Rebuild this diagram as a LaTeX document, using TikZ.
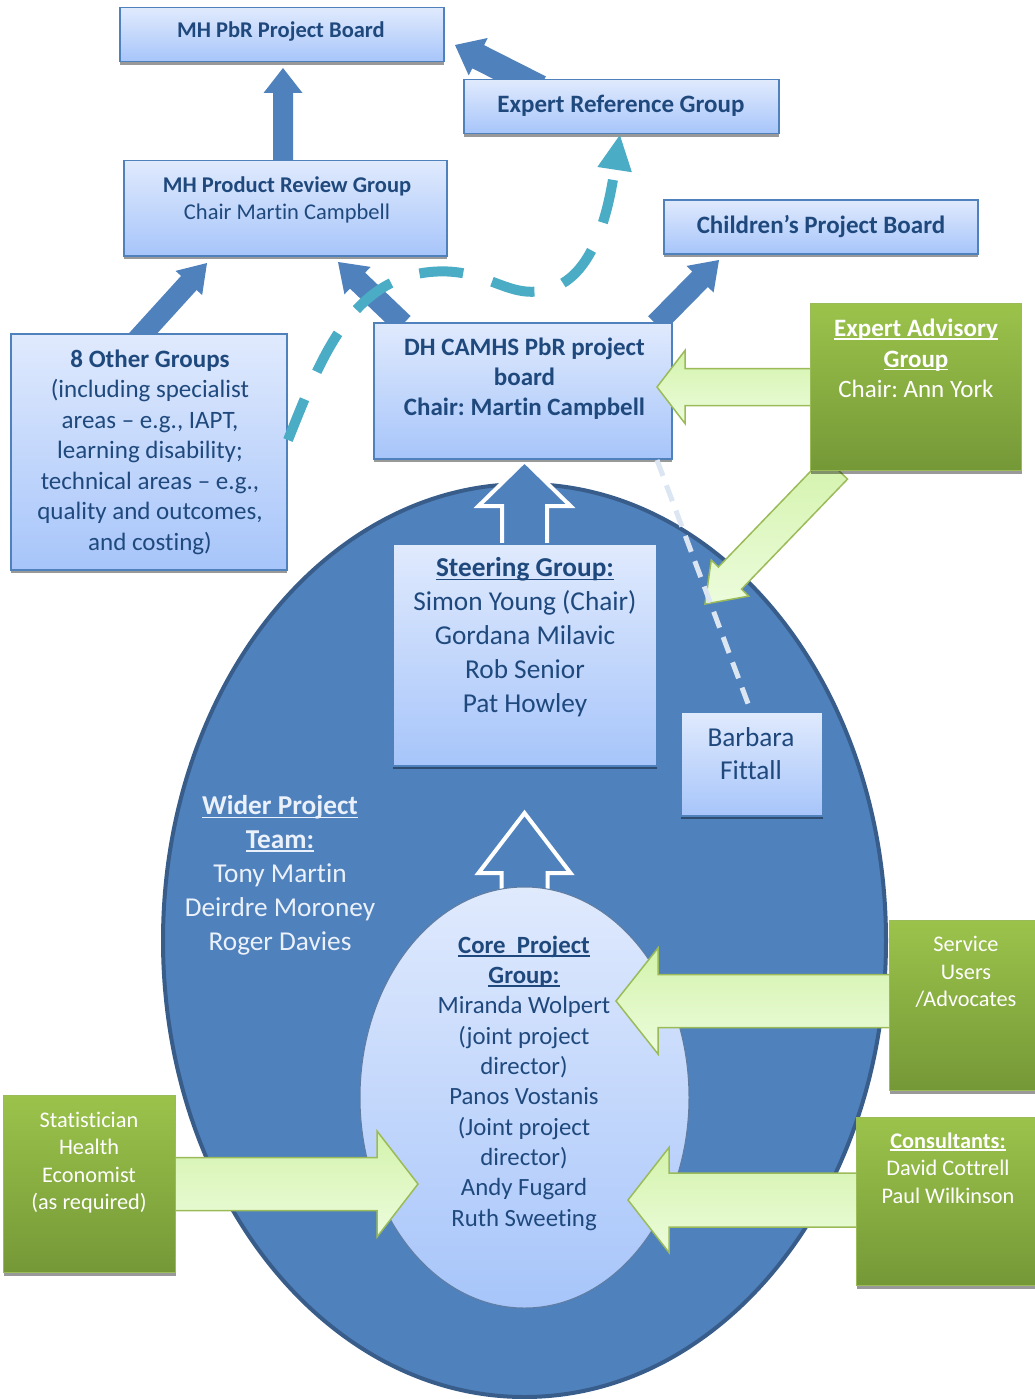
\documentclass[tikz,border=0pt]{standalone}
\usepackage{fontspec}
\setmainfont{Carlito}[Ligatures={TeX,NoCommon}]
\usetikzlibrary{calc,arrows.meta,shadows,shapes.geometric}
\frenchspacing

\definecolor{boxtext}{RGB}{31,73,125}
\definecolor{boxtop}{RGB}{224,234,253}
\definecolor{boxbot}{RGB}{167,197,250}
\definecolor{boxline}{RGB}{79,129,189}
\definecolor{dblue}{RGB}{79,129,189}
\definecolor{dblueline}{RGB}{56,93,138}
\definecolor{gtop}{RGB}{155,195,75}
\definecolor{gbot}{RGB}{117,152,55}
\definecolor{gline}{RGB}{155,187,89}
\definecolor{ltop}{RGB}{212,243,172}
\definecolor{lbot}{RGB}{236,252,220}
\definecolor{tealdash}{RGB}{75,172,198}
\definecolor{widetext}{RGB}{235,241,250}
\definecolor{linkdash}{RGB}{220,230,243}

% underline set just below the baseline, crossing descenders
\newcommand\wordul[1]{\setbox0\hbox{#1}\rlap{\rule[-0.13em]{\wd0}{0.065em}}\box0}

% block arrow: style, tail, tip, shaft half width, head half width, head length
\newcommand\blockarrow[6]{%
  \coordinate (ba-base) at ($(#3)!#6!(#2)$);
  \path[#1] ($(#2)!#4!90:(#3)$) -- ($(ba-base)!#4!90:(#3)$) -- ($(ba-base)!#5!90:(#3)$) -- (#3)
     -- ($(ba-base)!#5!-90:(#3)$) -- ($(ba-base)!#4!-90:(#3)$) -- ($(#2)!#4!-90:(#3)$) -- cycle;}

% text nodes sit on the baseline of their last line
\tikzset{
  bshadow/.style={drop shadow={shadow xshift=0pt,shadow yshift=-3pt,fill=black,opacity=0.4}},
  bluebox/.style={rectangle, draw=boxline, line width=1.5pt, top color=boxtop, bottom color=boxbot,
    inner sep=0pt, anchor=north west, bshadow},
  greenbox/.style={rectangle, draw=gline, line width=1.3pt, top color=gtop, bottom color=gbot,
    inner sep=0pt, anchor=north west, bshadow},
  txt/.style={inner sep=0pt, anchor=base, align=center},
  ta/.style={txt, font=\fontsize{22.5}{27.5}\selectfont, text=boxtext},
  tb/.style={txt, font=\fontsize{25}{30.5}\selectfont, text=boxtext},
  tc/.style={txt, font=\fontsize{27.3}{33.8}\selectfont, text=boxtext},
  tg/.style={txt, font=\fontsize{22.3}{27.5}\selectfont, text=white},
  bluearrow/.style={fill=dblue},
  openarrow/.style={fill=dblue, draw=white, line width=4pt, line join=miter},
  greenarrow/.style={draw=gline, line width=1.5pt, top color=ltop, bottom color=lbot, line join=miter},
}

\begin{document}
\begin{tikzpicture}[x=1pt,y=-1pt]
\useasboundingbox (0,0) rectangle (1034,1399);

% wider project team
\node[ellipse, draw=dblueline, line width=4pt, fill=dblue, minimum width=723pt, minimum height=913pt,
  inner sep=0pt] (wide) at (524.5,940.5) {};

% core group feeding the steering group
\coordinate (core-up) at (524.5,905);
\coordinate (steer-in) at (524.5,813);
\blockarrow{openarrow}{core-up}{steer-in}{23pt}{46pt}{60pt}

\node[ellipse, draw=dblueline!80, line width=1pt, top color=boxtop, bottom color=boxbot,
  minimum width=329pt, minimum height=421pt, inner sep=0pt] (core) at (524.5,1097.5) {};

% reporting lines
\coordinate (prg-up) at (283,170);
\coordinate (pbr-in) at (283,68);
\blockarrow{bluearrow}{prg-up}{pbr-in}{10pt}{19.5pt}{25pt}
\coordinate (erg-up) at (540,88);
\coordinate (pbr-side) at (455,45);
\blockarrow{bluearrow}{erg-up}{pbr-side}{13pt}{21pt}{26pt}
\coordinate (oth-up) at (137,340);
\coordinate (prg-in1) at (207,263);
\blockarrow{bluearrow}{oth-up}{prg-in1}{10.5pt}{18pt}{27pt}
\coordinate (dh-up1) at (403,324);
\coordinate (prg-in2) at (338,262);
\blockarrow{bluearrow}{dh-up1}{prg-in2}{11pt}{19pt}{27pt}
\coordinate (dh-up2) at (656,324);
\coordinate (cpb-in) at (719,260);
\blockarrow{bluearrow}{dh-up2}{cpb-in}{11pt}{19pt}{27pt}
\coordinate (steer-up) at (524.5,550);
\coordinate (dh-in) at (524.5,461);
\blockarrow{openarrow}{steer-up}{dh-in}{22.5pt}{46pt}{45pt}

% boards and groups
\node[bluebox, minimum width=324pt, minimum height=54pt] (pbr) at (119,7) {};
\node[ta] (pbr-t) at (281,38) {\textbf{MH PbR Project Board}};
\node[bluebox, minimum width=315pt, minimum height=54pt] (erg) at (463,79) {};
\node[ta, font=\fontsize{25}{30}\selectfont] (erg-t) at (621,112.5) {\textbf{Expert Reference Group}};
\node[bluebox, minimum width=323pt, minimum height=95pt] (prg) at (123,160) {};
\node[ta] (prg-t) at (287,219.5) {\textbf{MH Product Review Group}\\Chair Martin Campbell};
\node[bluebox, minimum width=314pt, minimum height=54pt] (cpb) at (663,199) {};
\node[ta, font=\fontsize{25}{30}\selectfont] (cpb-t) at (821,233.5) {\textbf{Children’s Project Board}};
\node[bluebox, minimum width=276pt, minimum height=236pt] (oth) at (10,333) {};
\node[tb] (oth-t) at (150,550) {\textbf{8 Other Groups}\\(including specialist\\areas – e.g., IAPT,\\learning disability;\\technical areas – e.g.,\\quality and outcomes,\\and costing)};
\node[bluebox, minimum width=298pt, minimum height=136pt] (dh) at (373,322) {};
\node[tb, font=\bfseries\fontsize{25}{30}\selectfont] (dh-t) at (524.5,415) {DH CAMHS PbR project\\board\\Chair: Martin Campbell};
\node[bluebox, minimum width=264pt, minimum height=222pt] (steer) at (392,543) {};
\node[tc] (steer-t) at (525,712) {\wordul{\textbf{Steering Group:}}\\Simon Young (Chair)\\Gordana Milavic\\Rob Senior\\Pat Howley};

% link to the project manager
\coordinate (dh-link) at (657,460);
\coordinate (barb-link) at (750,709);

% wider team members and core group
\node[tc, text=widetext] (wide-t) at (280,950) {\wordul{\textbf{Wider Project}}\\\wordul{\textbf{Team:}}\\Tony Martin\\Deirdre Moroney\\Roger Davies};
\node[tb, font=\fontsize{24.8}{30.3}\selectfont] (core-t) at (524,1226) {\wordul{\textbf{Core\ \ Project}}\\\wordul{\textbf{Group:}}\\Miranda Wolpert\\(joint project\\director)\\Panos Vostanis\\(Joint project\\director)\\Andy Fugard\\Ruth Sweeting};

% expert reference loop
\coordinate (oth-out) at (288,440);
\coordinate (erg-in) at (620,134);
\draw[tealdash, line width=10pt, dash pattern=on 44pt off 30pt, -{Triangle[length=36pt,width=32pt]}]
  (oth-out) .. controls (320,360) and (350,280) .. (430,272)
  .. controls (490,266) and (510,305) .. (555,287)
  .. controls (598,270) and (610,200) .. (erg-in);

% advisory inputs
\coordinate (ea-out1) at (815,387);
\coordinate (dh-in2) at (657,387);
\blockarrow{greenarrow}{ea-out1}{dh-in2}{18.5pt}{36.5pt}{28pt}
\coordinate (ea-out2) at (836,468);
\coordinate (steer-in2) at (705,604);
\blockarrow{greenarrow}{ea-out2}{steer-in2}{16pt}{26pt}{36pt}
\coordinate (su-out) at (895,1001);
\coordinate (core-in1) at (616,1001);
\blockarrow{greenarrow}{su-out}{core-in1}{26.5pt}{53pt}{42pt}
\coordinate (cons-out) at (860,1200);
\coordinate (core-in2) at (628,1200);
\blockarrow{greenarrow}{cons-out}{core-in2}{27pt}{52.5pt}{41pt}
\coordinate (stat-out) at (170,1184);
\coordinate (core-in3) at (418,1184);
\blockarrow{greenarrow}{stat-out}{core-in3}{26.5pt}{53pt}{41pt}

\node[greenbox, minimum width=211pt, minimum height=167pt] (ea) at (810,303) {};
\node[tb, text=white] (ea-t) at (916,397.5) {\wordul{\textbf{Expert Advisory}}\\\wordul{\textbf{Group}}\\Chair: Ann York};
\node[greenbox, minimum width=147pt, minimum height=170pt] (su) at (889,920) {};
\node[tg] (su-t) at (966,1006.7) {Service\\Users\\/Advocates};
\node[greenbox, minimum width=180pt, minimum height=168pt] (cons) at (856,1117) {};
\node[tg] (cons-t) at (948,1203) {\wordul{\textbf{Consultants:}}\\David Cottrell\\Paul Wilkinson};
\node[greenbox, minimum width=172pt, minimum height=177pt] (stat) at (3,1095) {};
\node[tg] (stat-t) at (89,1209.5) {Statistician\\Health\\Economist\\(as required)};

% project manager
\draw[linkdash, line width=5pt, dash pattern=on 17pt off 10pt] (dh-link) -- (barb-link);
\node[bluebox, minimum width=142pt, minimum height=104pt] (barb) at (680,711) {};
\node[tc] (barb-t) at (751,779.8) {Barbara\\Fittall};
\end{tikzpicture}
\end{document}
